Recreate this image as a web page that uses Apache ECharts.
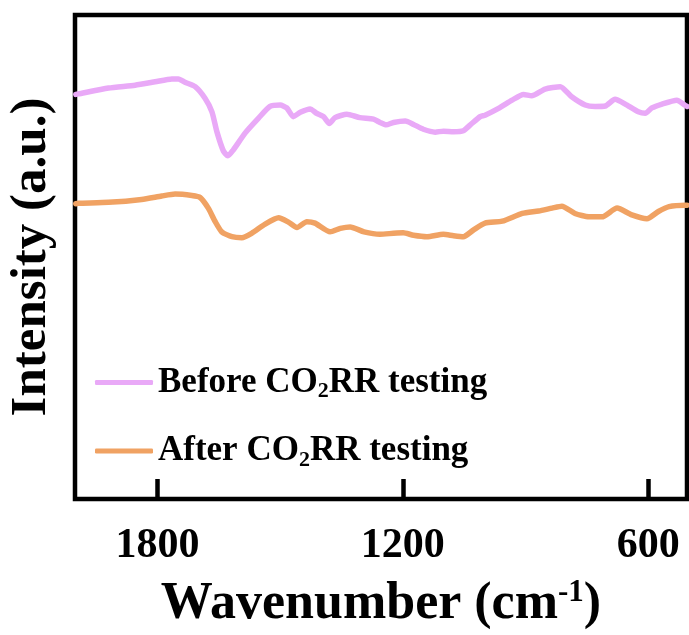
<!DOCTYPE html>
<html>
<head>
<meta charset="utf-8">
<script src="https://cdn.jsdelivr.net/npm/echarts@6/dist/echarts.min.js"></script>
<style>
  html, body { margin: 0; padding: 0; background: #fff; }
  #chart { width: 689px; height: 635px; }
</style>
</head>
<body>
<div id="chart"></div>
<script>
// FTIR spectra of the catalyst before and after CO2RR testing (offset, arbitrary units)
const beforeWavenumber = [2000, 1994, 1920, 1855, 1806, 1765, 1749, 1733, 1708, 1684, 1667, 1655, 1639, 1628, 1615, 1586, 1553, 1525, 1500, 1484, 1468, 1451, 1427, 1411, 1394, 1380, 1366, 1337, 1305, 1272, 1256, 1241, 1223, 1194, 1174, 1150, 1121, 1101, 1076, 1052, 1035, 1011, 999, 966, 933, 905, 885, 852, 815, 787, 754, 730, 705, 681, 656, 624, 607, 591, 566, 530, 509, 505];
const beforeIntensity  = [83.6, 83.7, 84.9, 85.5, 86.2, 86.8, 86.8, 86.1, 85.2, 82.8, 80.0, 75.9, 71.9, 70.9, 72.1, 75.6, 78.7, 81.1, 81.4, 80.8, 79.0, 79.9, 80.6, 79.7, 79.0, 77.6, 78.8, 79.5, 78.8, 78.5, 77.8, 77.3, 77.8, 78.1, 77.4, 76.4, 75.8, 76.0, 75.9, 76.1, 77.3, 79.0, 79.3, 80.7, 82.4, 83.6, 83.3, 84.7, 85.2, 83.1, 81.4, 81.1, 81.2, 82.6, 81.6, 80.0, 79.7, 80.8, 81.6, 82.4, 81.3, 81.1];

const afterWavenumber = [2000, 1994, 1920, 1839, 1790, 1757, 1716, 1696, 1676, 1659, 1643, 1618, 1594, 1570, 1537, 1504, 1480, 1459, 1435, 1415, 1378, 1353, 1329, 1295, 1256, 1223, 1199, 1174, 1141, 1101, 1076, 1052, 1027, 999, 957, 908, 868, 835, 811, 779, 745, 713, 676, 640, 603, 575, 549, 509, 505];
const afterIntensity  = [61.0, 61.1, 61.3, 61.9, 62.6, 63.0, 62.7, 62.3, 60.1, 57.3, 55.2, 54.2, 54.0, 54.9, 56.8, 58.1, 57.2, 56.1, 57.3, 57.0, 55.2, 55.9, 56.2, 55.2, 54.7, 54.9, 55.0, 54.5, 54.2, 54.7, 54.4, 54.2, 55.6, 57.0, 57.4, 59.0, 59.5, 60.1, 60.5, 59.0, 58.3, 58.3, 60.1, 58.7, 57.9, 59.4, 60.4, 60.7, 60.7];

const xTicks = [1800, 1200, 600];
const seriesNames = ['Before CO2RR testing', 'After CO2RR testing'];
const seriesColors = ['#E9A9F7', '#F0A263'];

const FONT = "'Liberation Serif', 'Times New Roman', serif";

function pairs(xs, ys) {
  return xs.map((x, i) => [x, ys[i]]);
}

const chart = echarts.init(document.getElementById('chart'), null, { renderer: 'canvas' });

chart.setOption({
  backgroundColor: '#ffffff',
  animation: false,
  grid: {
    left: 75, right: 2, top: 15, bottom: 136,
    show: true, borderColor: '#000', borderWidth: 4.5,
    containLabel: false,
    outerBoundsMode: 'none'
  },
  legend: {
    orient: 'vertical',
    left: 95,
    top: 365,
    padding: 0,
    itemWidth: 58,
    itemHeight: 5,
    itemGap: 31,
    icon: 'roundRect',
    data: seriesNames,
    formatter: function (name) {
      return '{b|' + name.replace('CO2RR', 'CO}{s|2}{b|RR') + '}';
    },
    textStyle: {
      rich: {
        b: { fontFamily: FONT, fontWeight: 'bold', fontSize: 35, color: '#000', lineHeight: 40 },
        s: { fontFamily: FONT, fontWeight: 'bold', fontSize: 22, color: '#000', lineHeight: 14, verticalAlign: 'bottom' }
      }
    }
  },
  xAxis: {
    type: 'value',
    inverse: true,
    min: 505,
    max: 2002,
    name: '{t|Wavenumber (cm}{sup|-1}{t|)}',
    nameLocation: 'middle',
    nameGap: 78,
    nameTextStyle: {
      rich: {
        t: { fontFamily: FONT, fontWeight: 'bold', fontSize: 52, color: '#000', lineHeight: 56 },
        sup: { fontFamily: FONT, fontWeight: 'bold', fontSize: 31, color: '#000', lineHeight: 20, verticalAlign: 'top' }
      }
    },
    axisLine: { show: false },
    splitLine: { show: false },
    axisTick: {
      show: true, inside: true, length: 20,
      customValues: xTicks,
      lineStyle: { color: '#000', width: 4.5 }
    },
    axisLabel: {
      customValues: xTicks,
      formatter: function (v) { return String(v); },
      margin: 26,
      fontFamily: FONT, fontWeight: 'bold', fontSize: 42, color: '#000'
    }
  },
  yAxis: {
    type: 'value',
    min: 0,
    max: 100,
    name: 'Intensity (a.u.)',
    nameLocation: 'middle',
    nameGap: 18,
    nameTextStyle: { fontFamily: FONT, fontWeight: 'bold', fontSize: 51, color: '#000' },
    axisLine: { show: false },
    axisTick: { show: false },
    axisLabel: { show: false },
    splitLine: { show: false }
  },
  series: [
    {
      name: seriesNames[0],
      type: 'line',
      data: pairs(beforeWavenumber, beforeIntensity),
      showSymbol: false,
      smooth: 0.2,
      clip: true,
      color: seriesColors[0],
      lineStyle: { width: 5.5, color: seriesColors[0], cap: 'round', join: 'round' }
    },
    {
      name: seriesNames[1],
      type: 'line',
      data: pairs(afterWavenumber, afterIntensity),
      showSymbol: false,
      smooth: 0.2,
      clip: true,
      color: seriesColors[1],
      lineStyle: { width: 5.5, color: seriesColors[1], cap: 'round', join: 'round' }
    }
  ]
});
</script>
</body>
</html>
